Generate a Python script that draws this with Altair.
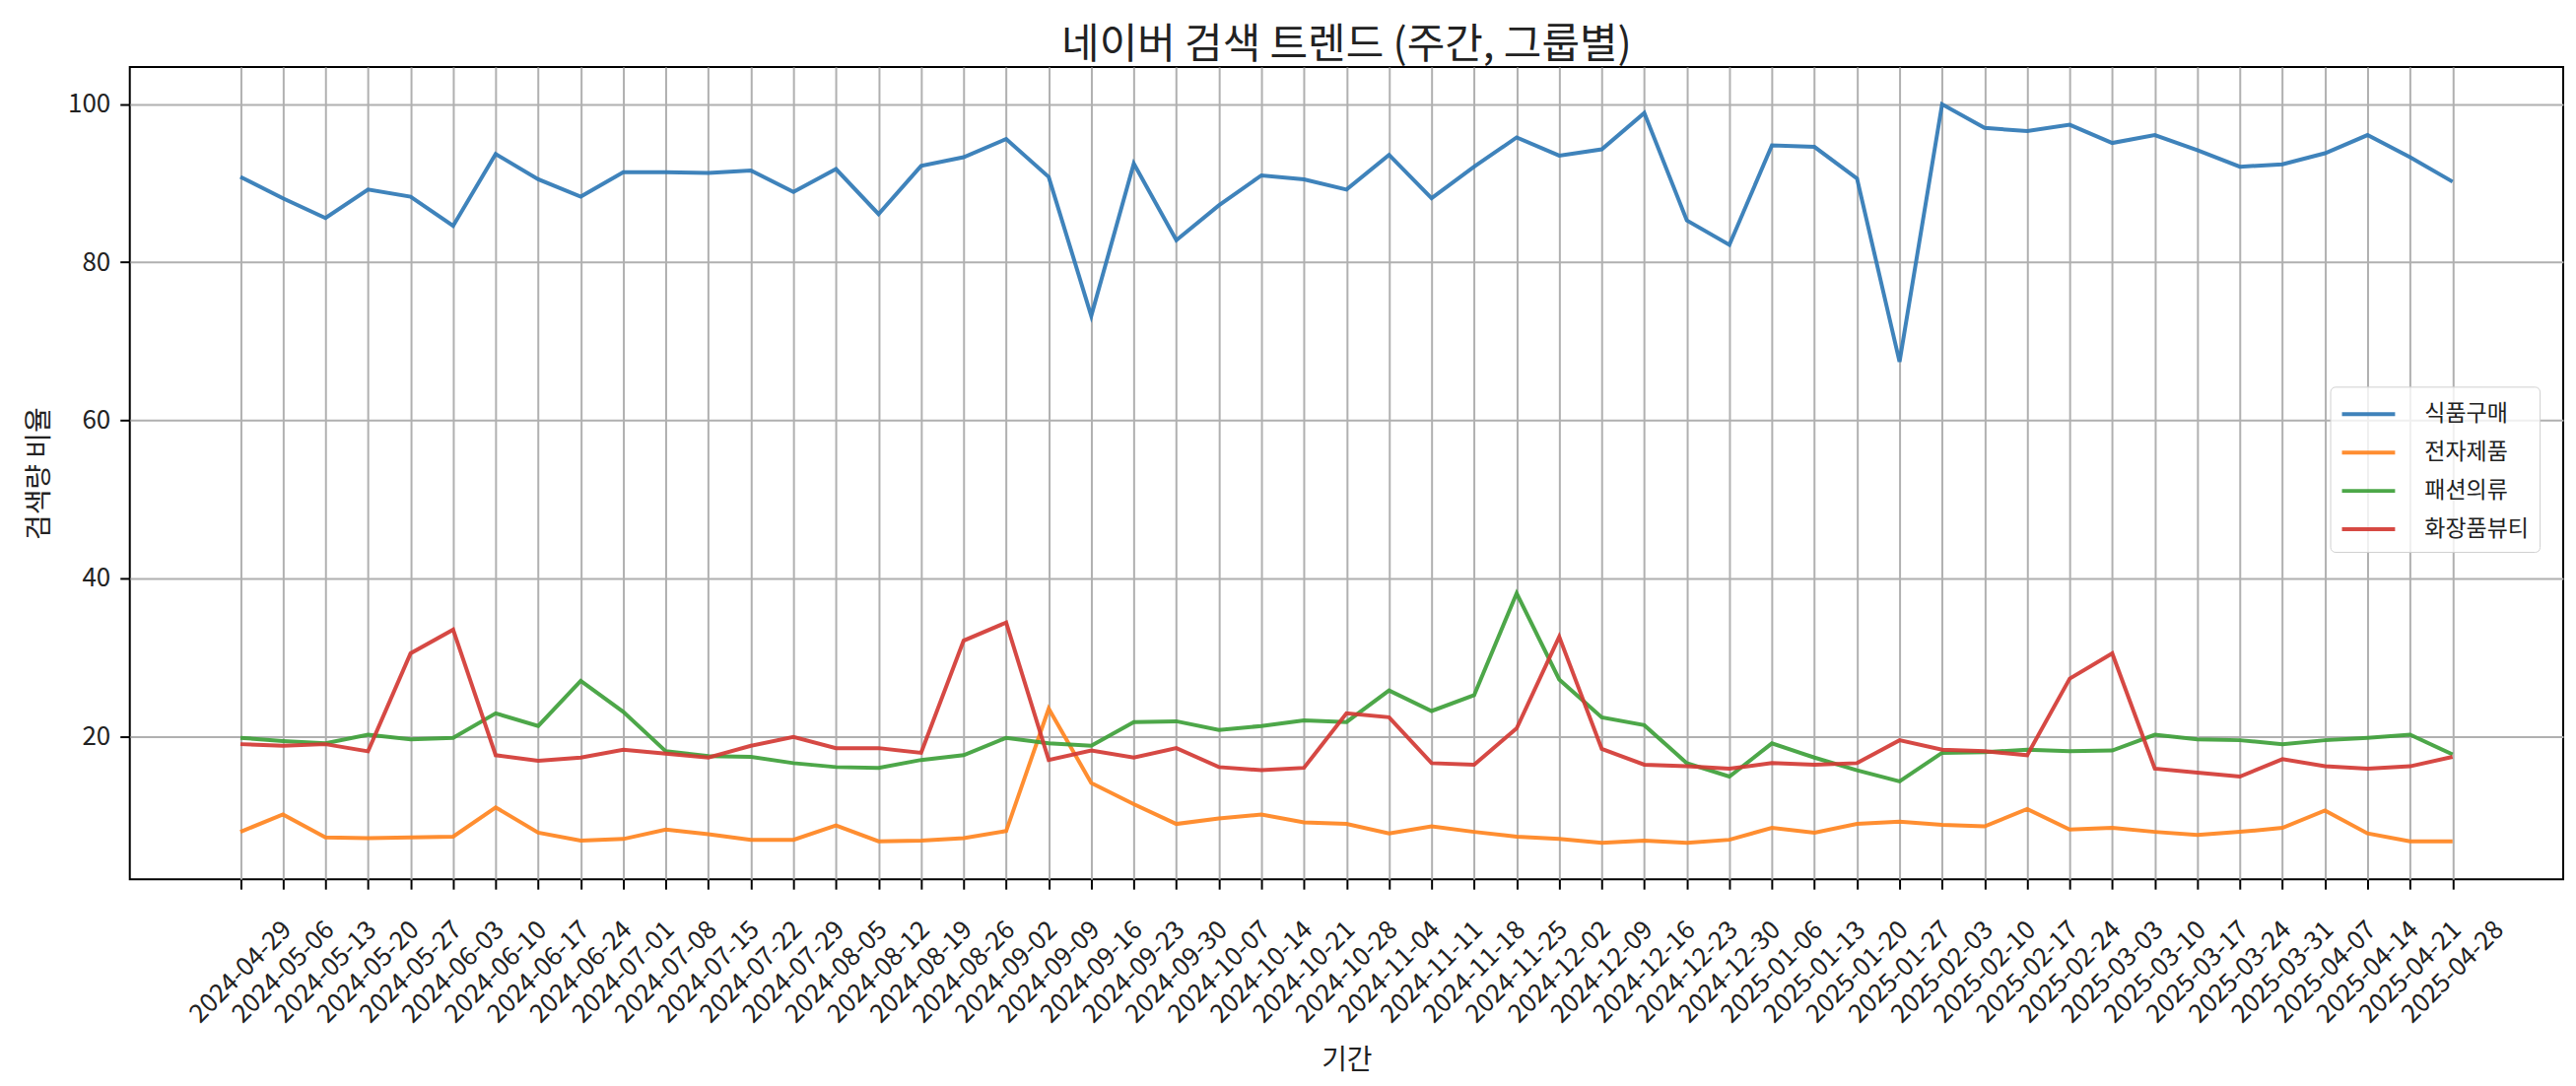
import altair as alt
import pandas as pd

dates = [
    "2024-04-29", "2024-05-06", "2024-05-13", "2024-05-20", "2024-05-27",
    "2024-06-03", "2024-06-10", "2024-06-17", "2024-06-24", "2024-07-01",
    "2024-07-08", "2024-07-15", "2024-07-22", "2024-07-29", "2024-08-05",
    "2024-08-12", "2024-08-19", "2024-08-26", "2024-09-02", "2024-09-09",
    "2024-09-16", "2024-09-23", "2024-09-30", "2024-10-07", "2024-10-14",
    "2024-10-21", "2024-10-28", "2024-11-04", "2024-11-11", "2024-11-18",
    "2024-11-25", "2024-12-02", "2024-12-09", "2024-12-16", "2024-12-23",
    "2024-12-30", "2025-01-06", "2025-01-13", "2025-01-20", "2025-01-27",
    "2025-02-03", "2025-02-10", "2025-02-17", "2025-02-24", "2025-03-03",
    "2025-03-10", "2025-03-17", "2025-03-24", "2025-03-31", "2025-04-07",
    "2025-04-14", "2025-04-21", "2025-04-28",
]

groups = ["식품구매", "전자제품", "패션의류", "화장품뷰티"]
colors = ["#2f78b5", "#ff8420", "#3ea03a", "#d33a34"]

food = [90.8, 88.1, 85.6, 89.2, 88.3, 84.6, 93.7, 90.5, 88.3, 91.4,
        91.4, 91.3, 91.6, 88.9, 91.8, 86.1, 92.2, 93.3, 95.6, 90.8,
        73.2, 92.5, 82.8, 87.2, 91.0, 90.5, 89.2, 93.6, 88.1, 92.1,
        95.8, 93.5, 94.3, 98.9, 85.3, 82.2, 94.8, 94.6, 90.6, 67.4,
        100.0, 97.0, 96.6, 97.4, 95.1, 96.1, 94.2, 92.1, 92.4, 93.8,
        96.1, 93.3, 90.2]

electronics = [7.9, 10.1, 7.2, 7.1, 7.2, 7.3, 11.0, 7.8, 6.8, 7.0,
               8.2, 7.6, 6.9, 6.9, 8.7, 6.7, 6.8, 7.1, 8.0, 23.5,
               14.1, 11.4, 8.9, 9.6, 10.1, 9.1, 8.9, 7.7, 8.6, 7.9,
               7.3, 7.0, 6.5, 6.8, 6.5, 6.9, 8.4, 7.8, 8.9, 9.2,
               8.8, 8.6, 10.8, 8.2, 8.4, 7.9, 7.5, 7.9, 8.4, 10.6,
               7.7, 6.7, 6.7]

fashion = [19.8, 19.4, 19.1, 20.2, 19.6, 19.8, 22.9, 21.3, 27.0, 23.1,
           18.1, 17.5, 17.4, 16.6, 16.1, 16.0, 17.0, 17.6, 19.8, 19.1,
           18.8, 21.8, 21.9, 20.8, 21.3, 22.0, 21.8, 25.8, 23.2, 25.2,
           38.1, 27.2, 22.4, 21.4, 16.6, 14.9, 19.1, 17.3, 15.7, 14.3,
           17.9, 18.0, 18.3, 18.1, 18.2, 20.2, 19.6, 19.5, 19.0, 19.5,
           19.8, 20.2, 17.7]

beauty = [19.0, 18.8, 19.0, 18.1, 30.5, 33.5, 17.6, 16.9, 17.3, 18.3,
          17.8, 17.3, 18.8, 19.9, 18.5, 18.5, 17.9, 32.1, 34.4, 17.0,
          18.2, 17.3, 18.5, 16.1, 15.7, 16.0, 22.9, 22.4, 16.6, 16.4,
          21.0, 32.6, 18.4, 16.4, 16.2, 15.9, 16.6, 16.4, 16.6, 19.5,
          18.3, 18.1, 17.6, 27.3, 30.5, 15.9, 15.4, 14.9, 17.1, 16.2,
          15.9, 16.2, 17.4]

y_ticks = [20, 40, 60, 80, 100]

series = [food, electronics, fashion, beauty]
rows = []
for g, vals in zip(groups, series):
    for i, (d, v) in enumerate(zip(dates, vals)):
        rows.append({"idx": i, "date": d, "group": g, "value": v})
df = pd.DataFrame(rows)

n = len(dates)
margin = 0.05 * (n - 1)
label_expr = "[" + ",".join("'" + d + "'" for d in dates) + "][datum.value]"

FONT = "Noto Sans CJK KR"

chart = (
    alt.Chart(df)
    .mark_line(strokeWidth=4, opacity=0.92)
    .encode(
        x=alt.X(
            "idx:Q",
            scale=alt.Scale(domain=[-margin, n - 1 + margin], nice=False, zero=False),
            axis=alt.Axis(
                title="기간",
                values=list(range(n)),
                labelExpr=label_expr,
                labelAngle=-45,
                labelAlign="center",
                labelBaseline="middle",
                labelPadding=84,
                labelFontSize=26,
                labelOverlap=False,
                labelFlush=False,
                titleFontSize=28,
                titlePadding=20,
                tickSize=10,
                tickWidth=2,
                tickColor="black",
                grid=True,
                gridColor="#b0b0b0",
                gridWidth=2,
                domain=False,
                labelColor="#222222",
                titleColor="#222222",
                titleFontWeight="normal",
            ),
        ),
        y=alt.Y(
            "value:Q",
            scale=alt.Scale(domain=[1.9, 104.7], nice=False, zero=False),
            axis=alt.Axis(
                title="검색량 비율",
                values=y_ticks,
                labelFontSize=26,
                titleFontSize=28,
                titlePadding=14,
                labelPadding=10,
                tickSize=10,
                tickWidth=2,
                tickColor="black",
                grid=True,
                gridColor="#b0b0b0",
                gridWidth=2,
                domain=False,
                labelColor="#222222",
                titleColor="#222222",
                titleFontWeight="normal",
            ),
        ),
        color=alt.Color(
            "group:N",
            sort=groups,
            scale=alt.Scale(domain=groups, range=colors),
            legend=alt.Legend(
                title=None,
                orient="none",
                legendX=2238,
                legendY=325,
                symbolType="M-1.8,0H1.8",
                symbolSize=900,
                symbolStrokeWidth=4,
                symbolOffset=11,
                labelFontSize=23,
                labelOffset=40,
                rowPadding=10,
                padding=11,
                strokeColor="#d0d0d0",
                fillColor="rgba(255,255,255,0.8)",
                cornerRadius=5,
                labelColor="#222222",
            ),
        ),
    )
    .properties(
        width=2475,
        height=826,
        title=alt.TitleParams(
            "네이버 검색 트렌드 (주간, 그룹별)",
            fontSize=42,
            fontWeight="normal",
            anchor="middle",
            offset=0,
            color="#222222",
        ),
        padding={"left": 18, "top": 16, "right": 5, "bottom": 2},
    )
    .configure(font=FONT)
    .configure_view(stroke="black", strokeWidth=2)
)

chart.save("out.html", embed_options={"renderer": "svg", "actions": False})
